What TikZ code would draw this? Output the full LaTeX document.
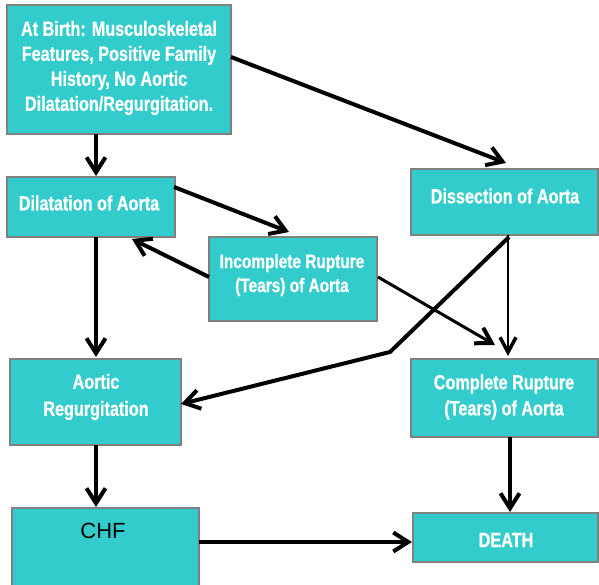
\documentclass[tikz,border=0pt]{standalone}
\usepackage{fontspec}
\setmainfont{Liberation Sans}
\newfontfamily\nar[FakeStretch=0.79,FakeBold=0.8]{Liberation Sans}
\usetikzlibrary{arrows.meta,calc}
\definecolor{teal}{RGB}{51,204,204}
\definecolor{edge}{RGB}{128,128,128}
\begin{document}
\begin{tikzpicture}[x=1pt,y=-1pt,
  box/.style={draw=edge,line width=2pt,fill=teal,inner sep=0pt,outer sep=0pt},
  lbl/.style={text=white,font=\nar\bfseries\fontsize{20.5}{25}\selectfont,align=center,inner sep=0pt},
  thk/.style={line width=4pt,-{Straight Barb[length=15pt,width=19pt,line width=4pt]}},
  thn/.style={line width=2pt,-{Straight Barb[length=15pt,width=16pt,line width=3.5pt]}}]
\useasboundingbox (0,0) rectangle (599,585);
% boxes
\node[box,minimum width=224pt,minimum height=129pt] (a) at (119,69.5) {};
\node[box,minimum width=168pt,minimum height=60pt] (b) at (91,207) {};
\node[box,minimum width=168pt,minimum height=84pt] (c) at (293,279) {};
\node[box,minimum width=187pt,minimum height=66pt] (d) at (504.5,202) {};
\node[box,minimum width=171pt,minimum height=86pt] (e) at (95.5,402) {};
\node[box,minimum width=187pt,minimum height=78pt] (f) at (504.5,398) {};
\node[box,minimum width=187pt,minimum height=84pt] (g) at (105.5,550) {};
\node[box,minimum width=185pt,minimum height=49pt] (h) at (505.5,537.5) {};
% texts
\node[lbl] (ta) at (119,68) {At Birth: Musculoskeletal\\Features, Positive Family\\History, No Aortic\\Dilatation/Regurgitation.};
\node[lbl] (tb) at (89,203) {Dilatation of Aorta};
\node[lbl,font=\nar\bfseries\fontsize{19.5}{24}\selectfont] (tc) at (292,275) {Incomplete Rupture\\(Tears) of Aorta};
\node[lbl] (td) at (505,196) {Dissection of Aorta};
\node[lbl,font=\nar\bfseries\fontsize{20.5}{27}\selectfont] (te) at (96,397) {Aortic\\Regurgitation};
\node[lbl,font=\nar\bfseries\fontsize{20.5}{26}\selectfont] (tf) at (504,397) {Complete Rupture\\(Tears) of Aorta};
\node[text=black,font=\fontsize{22}{26}\selectfont,inner sep=0pt] (tg) at (103,531) {CHF};
\node[lbl] (th) at (506,540) {DEATH};
% connectors
\draw[thk] ($(a.north west)+(89,129)$) -- ($(b.north west)+(89,-1)$);
\draw[thk] ($(a.north west)+(224,52)$) -- ($(d.north west)+(95,-6)$);
\draw[thk] ($(b.north west)+(167,10)$) -- ($(c.north west)+(80,-5)$);
\draw[thk] ($(c.north west)+(0,40)$) -- ($(b.north west)+(125,62)$);
\draw[thk] ($(b.north west)+(89,60)$) -- ($(e.north west)+(86,-2)$);
\draw[line width=3pt,-{Straight Barb[length=15pt,width=18pt,line width=4pt]}] ($(c.north west)+(169,40)$) -- ($(f.north west)+(84,-14)$);
\draw[thn] ($(d.north west)+(97,66)$) -- ($(f.north west)+(97,-3)$);
\draw[thk,line join=miter] ($(d.north west)+(98,68)$) -- (390,352) -- ($(e.north west)+(171,45)$);
\draw[thk] ($(e.north west)+(86,86)$) -- ($(g.north west)+(84,-1)$);
\draw[thk] ($(f.north west)+(99,78)$) -- ($(h.north west)+(97,-1)$);
\draw[thk] ($(g.north west)+(187,34)$) -- ($(h.north west)+(-1,29)$);
\end{tikzpicture}
\end{document}
